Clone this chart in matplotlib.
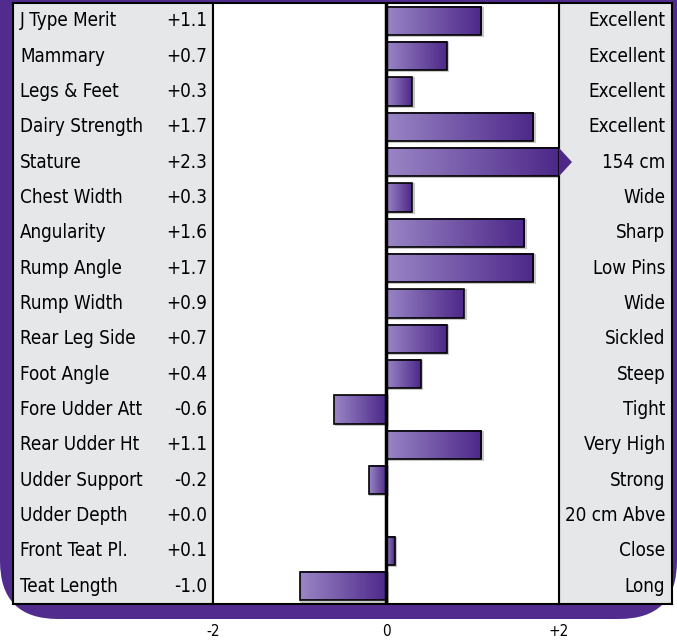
import numpy as np
import matplotlib.pyplot as plt
from matplotlib.patches import Rectangle, FancyBboxPatch, Polygon
from matplotlib.colors import LinearSegmentedColormap

plt.rcParams['font.family'] = ['Liberation Sans Narrow', 'DejaVu Sans']
plt.rcParams['font.stretch'] = 'condensed'

# trait data
traits = ['J Type Merit', 'Mammary', 'Legs & Feet', 'Dairy Strength', 'Stature',
          'Chest Width', 'Angularity', 'Rump Angle', 'Rump Width', 'Rear Leg Side',
          'Foot Angle', 'Fore Udder Att', 'Rear Udder Ht', 'Udder Support',
          'Udder Depth', 'Front Teat Pl.', 'Teat Length']
values = [1.1, 0.7, 0.3, 1.7, 2.3, 0.3, 1.6, 1.7, 0.9, 0.7, 0.4, -0.6, 1.1, -0.2,
          0.0, 0.1, -1.0]
descriptions = ['Excellent', 'Excellent', 'Excellent', 'Excellent', '154 cm', 'Wide',
                'Sharp', 'Low Pins', 'Wide', 'Sickled', 'Steep', 'Tight', 'Very High',
                'Strong', '20 cm Abve', 'Close', 'Long']
tick_values = [-2, 0, 2]
tick_labels = ['-2', '0', '+2']

PURPLE = '#512c8e'
PANEL = '#e6e7e9'
W, H = 677, 640
bar_cmap = LinearSegmentedColormap.from_list('bar', ['#9a86c6', '#4d2889'])

fig = plt.figure(figsize=(W / 100, H / 100), dpi=100)

# purple backdrop with rounded bottom corners
bg = FancyBboxPatch((0, (H - 619) / 100), W / 100, 7.0,
                    boxstyle='round,pad=0,rounding_size=0.58',
                    transform=fig.dpi_scale_trans, facecolor=PURPLE,
                    edgecolor='none', zorder=-10)
fig.patches.append(bg)

top, bottom = 3, 604
x_left, x_mid_l, x_mid_r, x_right = 13, 213, 559, 672
n = len(traits)


def fig_axes(x0, x1):
    return fig.add_axes([x0 / W, 1 - bottom / H, (x1 - x0) / W, (bottom - top) / H])


# left panel: trait names and values
axl = fig_axes(x_left, x_mid_l)
axl.set_facecolor(PANEL)
axl.set_xlim(0, 1)
axl.set_ylim(n - 0.5, -0.5)
for i, (t, v) in enumerate(zip(traits, values)):
    axl.text(0.035, i, t, ha='left', va='center', fontsize=13.5)
    axl.text(0.97, i, f'{v:+.1f}', ha='right', va='center', fontsize=13.5)

# right panel: descriptions
axr = fig_axes(x_mid_r, x_right)
axr.set_facecolor(PANEL)
axr.set_xlim(0, 1)
axr.set_ylim(n - 0.5, -0.5)
for i, d in enumerate(descriptions):
    axr.text(0.94, i, d, ha='right', va='center', fontsize=13.5)

for a in (axl, axr):
    a.set_xticks([])
    a.set_yticks([])
    for s in a.spines.values():
        s.set_linewidth(1.5)

# bar area
ax = fig_axes(x_mid_l, x_mid_r)
ax.set_facecolor('white')
ax.set_xlim(-2, 2)
ax.set_ylim(n - 0.5, -0.5)
ax.set_yticks([])
ax.set_xticks([])
for s in ax.spines.values():
    s.set_linewidth(1.5)
ax.axvline(0, color='black', lw=2.5, zorder=5)

grad = np.linspace(0, 1, 256).reshape(1, -1)
hh = 0.4
for i, v in enumerate(values):
    if abs(v) < 0.05:
        continue
    x0, x1 = min(0, v), max(0, v)
    arrow = x1 > 2
    x1 = min(x1, 2)
    ax.add_patch(Rectangle((x0 + 0.02, i - hh + 0.03), x1 - x0, 2 * hh,
                           facecolor='none', edgecolor='#c8c8c8', lw=1.5, zorder=2))
    ax.imshow(grad, cmap=bar_cmap, extent=(x0, x1, i + hh, i - hh),
              aspect='auto', zorder=3)
    ax.add_patch(Rectangle((x0, i - hh), x1 - x0, 2 * hh, facecolor='none',
                           edgecolor='black', lw=1.2, zorder=4))
    if arrow:
        ax.add_patch(Polygon([(2, i - hh), (2.15, i), (2, i + hh)], closed=True,
                             facecolor='#4d2889', edgecolor='none',
                             clip_on=False, zorder=6))
ax.set_xlim(-2, 2)
ax.set_ylim(n - 0.5, -0.5)

# axis tick labels under the backdrop
for tv, tl in zip(tick_values, tick_labels):
    x_px = x_mid_l + (tv + 2) / 4 * (x_mid_r - x_mid_l)
    fig.text(x_px / W, 1 - 632 / H, tl, ha='center', va='center', fontsize=11)

fig.savefig('out.png', dpi=100)
